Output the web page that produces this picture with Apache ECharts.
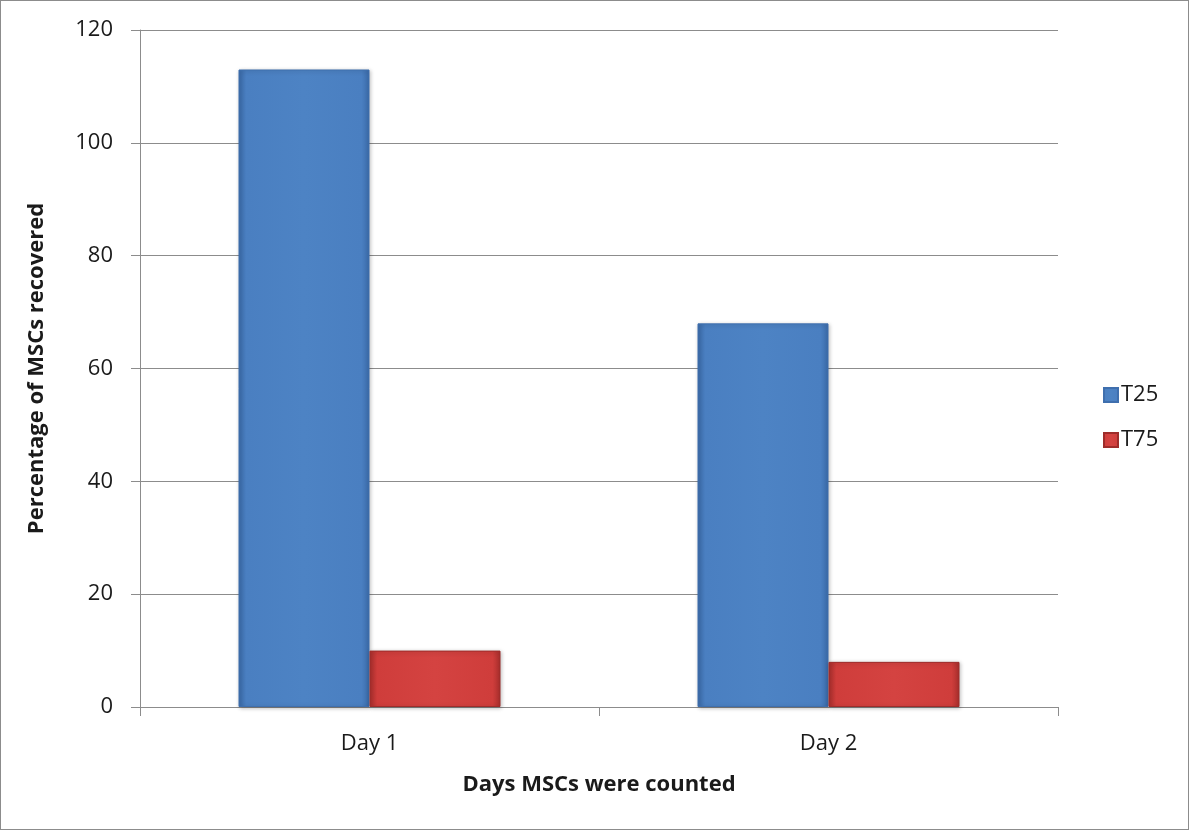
<!DOCTYPE html>
<html>
<head>
<meta charset="utf-8">
<script src="https://cdn.jsdelivr.net/npm/echarts@6/dist/echarts.min.js"></script>
<style>
  html, body { margin: 0; padding: 0; background: #fff; }
  #frame { position: absolute; left: 0; top: 0; width: 1187px; height: 828px; border: 1px solid #8c8c8c; }
  #chart { position: absolute; left: 0; top: 0; width: 1189px; height: 830px; }
</style>
</head>
<body>
<div id="frame"></div>
<div id="chart"></div>
<script>
// Recovery of MSCs per flask type, counted on two days
const categories = ['Day 1', 'Day 2'];
const seriesNames = ['T25', 'T75'];
const t25Values = [113, 68];
const t75Values = [10, 8];
const yTicks = { min: 0, max: 120, interval: 20 };

const FONT = '"Open Sans", sans-serif';

function bevel(edge, mid, light) {
  return {
    type: 'linear', x: 0, y: 0, x2: 1, y2: 0,
    colorStops: [
      { offset: 0, color: edge },
      { offset: 0.06, color: mid },
      { offset: 0.5, color: light },
      { offset: 0.94, color: mid },
      { offset: 1, color: edge }
    ]
  };
}

const chart = echarts.init(document.getElementById('chart'), null, { renderer: 'canvas' });
chart.setOption({
  animation: false,
  textStyle: { fontFamily: FONT },
  grid: { left: 140, right: 131, top: 30, bottom: 123, containLabel: false },
  legend: {
    orient: 'vertical',
    left: 1098,
    top: 379,
    itemWidth: 14,
    itemHeight: 14,
    itemGap: 23,
    icon: 'rect',
    textStyle: { fontSize: 22, color: '#1a1a1a', fontFamily: FONT, padding: [0, 0, 0, -2] },
    data: seriesNames
  },
  xAxis: {
    type: 'category',
    data: categories,
    name: 'Days MSCs were counted',
    nameLocation: 'middle',
    nameGap: 67,
    nameTextStyle: { fontSize: 22, fontWeight: 'bold', color: '#1a1a1a' },
    axisLine: { lineStyle: { color: '#8c8c8c', width: 1 } },
    axisTick: { show: true, length: 9, alignWithLabel: false, lineStyle: { color: '#8c8c8c' } },
    axisLabel: { fontSize: 22, color: '#1a1a1a', margin: 26 }
  },
  yAxis: {
    type: 'value',
    min: yTicks.min,
    max: yTicks.max,
    interval: yTicks.interval,
    name: 'Percentage of MSCs recovered',
    nameLocation: 'middle',
    nameGap: 92,
    nameTextStyle: { fontSize: 22, fontWeight: 'bold', color: '#1a1a1a' },
    axisLine: { show: true, lineStyle: { color: '#8c8c8c', width: 1 } },
    axisTick: { show: true, length: 9, lineStyle: { color: '#8c8c8c' } },
    axisLabel: { fontSize: 22, color: '#1a1a1a', margin: 27 },
    splitLine: { lineStyle: { color: '#8c8c8c', width: 1 } }
  },
  series: [
    {
      name: 'T25',
      type: 'bar',
      data: t25Values,
      barWidth: 131,
      barGap: '0%',
      itemStyle: {
        color: bevel('#3a6aa8', '#4a7fc1', '#4d83c4'),
        borderColor: '#3f6fae',
        borderWidth: 1,
        shadowColor: 'rgba(0,0,0,0.25)',
        shadowBlur: 4,
        shadowOffsetX: 1,
        shadowOffsetY: 1
      }
    },
    {
      name: 'T75',
      type: 'bar',
      data: t75Values,
      barWidth: 131,
      itemStyle: {
        color: bevel('#a82e2c', '#cf3d3b', '#d44341'),
        borderColor: '#9e2c2a',
        borderWidth: 1,
        shadowColor: 'rgba(0,0,0,0.25)',
        shadowBlur: 4,
        shadowOffsetX: 1,
        shadowOffsetY: 1
      }
    }
  ]
});
</script>
</body>
</html>
